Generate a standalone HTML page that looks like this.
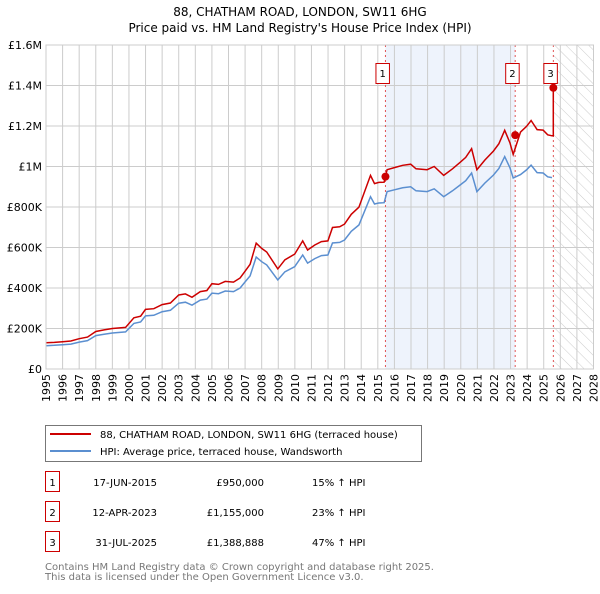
<!DOCTYPE html>
<html><head><meta charset="utf-8">
<style>
body{margin:0;background:#fff;font-family:"DejaVu Sans","Liberation Sans",sans-serif;}
svg text{font-family:"DejaVu Sans","Liberation Sans",sans-serif;}
</style></head>
<body>
<svg id="chart" width="600" height="590" viewBox="0 0 600 590" xmlns="http://www.w3.org/2000/svg">
<defs>
<pattern id="hatch" width="8" height="8" patternUnits="userSpaceOnUse" patternTransform="rotate(-45)">
<line x1="0" y1="0" x2="0" y2="8" stroke="#ccc" stroke-width="1"/>
</pattern>
</defs>
<text x="300" y="16" text-anchor="middle" font-size="12" fill="#000">88, CHATHAM ROAD, LONDON, SW11 6HG</text>
<text x="300" y="32" text-anchor="middle" font-size="12" fill="#000">Price paid vs. HM Land Registry's House Price Index (HPI)</text>
<g id="plot"></g>
<g id="legend">
<rect x="45.5" y="425.5" width="376" height="36" fill="#fff" stroke="#777"/>
<line x1="50" y1="434" x2="91" y2="434" stroke="#cc0000" stroke-width="2"/>
<text x="100" y="438" font-size="10">88, CHATHAM ROAD, LONDON, SW11 6HG (terraced house)</text>
<line x1="50" y1="451" x2="91" y2="451" stroke="#5b8fd0" stroke-width="2"/>
<text x="100" y="455" font-size="10">HPI: Average price, terraced house, Wandsworth</text>
</g>
<g id="table" font-size="10"></g>
<text x="45" y="570" font-size="10" fill="#777">Contains HM Land Registry data © Crown copyright and database right 2025.</text>
<text x="45" y="580" font-size="10" fill="#777">This data is licensed under the Open Government Licence v3.0.</text>
</svg>
<script>
const hpiYears=[1995,1995.5,1996,1996.5,1997,1997.5,1998,1998.5,1999,1999.8,2000.3,2000.7,2001,2001.5,2002,2002.5,2003,2003.4,2003.8,2004.3,2004.7,2005,2005.4,2005.8,2006.3,2006.7,2007,2007.3,2007.67,2008,2008.3,2008.97,2009.4,2009.99,2010.47,2010.77,2011.2,2011.6,2011.99,2012.27,2012.7,2012.99,2013.4,2013.86,2014.56,2014.8,2015.06,2015.38,2015.56,2016,2016.5,2016.98,2017.3,2017.97,2018.4,2018.97,2019.5,2019.97,2020.3,2020.65,2020.97,2021.45,2021.97,2022.3,2022.65,2022.97,2023.16,2023.6,2023.96,2024.24,2024.6,2024.96,2025.24,2025.5];
const hpiValues=[115,117,120,123,133,140,165,172,178,183,225,232,262,265,283,290,325,330,315,340,345,375,372,385,382,400,430,460,553,530,514,440,480,505,563,523,545,560,563,622,625,637,680,711,851,815,820,821,876,885,895,900,880,876,890,851,880,909,930,968,876,918,958,990,1049,993,943,960,983,1007,970,968,949,945];
const saleYears=[2015.46,2023.28,2025.58];
const saleLabels=["1","2","3"];
const salePrices=[950000,1155000,1388888];
const saleDates=["17-JUN-2015","12-APR-2023","31-JUL-2025"];
const salePriceText=["£950,000","£1,155,000","£1,388,888"];
const saleHpiText=["15% ↑ HPI","23% ↑ HPI","47% ↑ HPI"];
const yTicks=[0,200000,400000,600000,800000,1000000,1200000,1400000,1600000];
const yTickLabels=["£0","£200K","£400K","£600K","£800K","£1M","£1.2M","£1.4M","£1.6M"];
const xTicks=[1995,1996,1997,1998,1999,2000,2001,2002,2003,2004,2005,2006,2007,2008,2009,2010,2011,2012,2013,2014,2015,2016,2017,2018,2019,2020,2021,2022,2023,2024,2025,2026,2027,2028];

const NS="http://www.w3.org/2000/svg";
const X0=46,X1=593.5,Y0=369,Y1=45;
const xs=y=>X0+(y-1995)/(2028-1995)*(X1-X0);
const ys=v=>Y0-v/1600000*(Y0-Y1);
const plot=document.getElementById('plot');
function mk(tag,attrs,parent){const e=document.createElementNS(NS,tag);for(const k in attrs)e.setAttribute(k,attrs[k]);(parent||plot).appendChild(e);return e;}

let sh=mk('rect',{x:xs(saleYears[0]),y:Y1,width:xs(saleYears[1])-xs(saleYears[0]),height:Y0-Y1,fill:'#eef3fc'});


let ht=mk('rect',{x:xs(saleYears[2]),y:Y1,width:X1-xs(saleYears[2]),height:Y0-Y1,fill:'url(#hatch)'});



yTicks.forEach((t,i)=>{
  const g=mk('line',{x1:X0,x2:X1,y1:ys(t),y2:ys(t),stroke:'#ccc','stroke-width':1});
  
  
  const tx=mk('text',{x:X0-4,y:ys(t)+4,'text-anchor':'end','font-size':11});
  tx.textContent=yTickLabels[i];
  
  
});
xTicks.forEach(t=>{
  const g=mk('line',{x1:xs(t),x2:xs(t),y1:Y1,y2:Y0,stroke:'#ccc','stroke-width':1});
  
  
  const tx=mk('text',{x:0,y:0,'text-anchor':'end','font-size':11,transform:`translate(${xs(t)+4},${Y0+5}) rotate(-90)`});
  tx.textContent=t;
  
  
});

saleYears.forEach((s,i)=>{
  const l=mk('line',{x1:xs(s),x2:xs(s),y1:Y1,y2:Y0,stroke:'#e05555','stroke-width':1,'stroke-dasharray':'2,3'});
  
  
});

function hpiAt(y){for(let i=1;i<hpiYears.length;i++){if(y<=hpiYears[i]){const f=(y-hpiYears[i-1])/(hpiYears[i]-hpiYears[i-1]);return hpiValues[i-1]+f*(hpiValues[i]-hpiValues[i-1]);}}return hpiValues[hpiValues.length-1];}
const r1=salePrices[0]/(hpiAt(saleYears[0])*1000);
const r2=salePrices[1]/(hpiAt(saleYears[1])*1000);
let bp='',rp='';
hpiYears.forEach((y,i)=>{
  const v=hpiValues[i]*1000;
  bp+=(i?'L':'M')+xs(y).toFixed(1)+','+ys(v).toFixed(1);
  const r=y<saleYears[1]?v*r1:v*r2;
  rp+=(i?'L':'M')+xs(y).toFixed(1)+','+ys(r).toFixed(1);
});
rp+='L'+xs(saleYears[2]).toFixed(1)+','+ys(hpiAt(saleYears[2])*1000*r2).toFixed(1)+'L'+xs(saleYears[2]).toFixed(1)+','+ys(salePrices[2]).toFixed(1);
let bl=mk('path',{d:bp,fill:'none',stroke:'#5b8fd0','stroke-width':1.5});


let rl=mk('path',{d:rp,fill:'none',stroke:'#cc0000','stroke-width':1.5});



saleYears.forEach((s,i)=>{
  const c=mk('circle',{cx:xs(s),cy:ys(salePrices[i]),r:4,fill:'#cc0000'});
  
  
  const bx=mk('rect',{x:xs(s)-9.5,y:63.5,width:13.5,height:20,fill:'#fff',stroke:'#cc0000'});
  
  
  const t=mk('text',{x:xs(s)-2.8,y:77,'text-anchor':'middle','font-size':10});
  t.textContent=saleLabels[i];
  
  
});
mk('rect',{x:X0,y:Y1,width:X1-X0,height:Y0-Y1,fill:'none',stroke:'#ccc'});

const tb=document.getElementById('table');
saleLabels.forEach((lab,i)=>{
  const y=483+i*30;
  const b=mk('rect',{x:45.5,y:y-11.5,width:14,height:20,fill:'#fff',stroke:'#cc0000'},tb);
  
  
  const cells=[[52.5,lab,'middle'],[157,saleDates[i],'end'],[264,salePriceText[i],'end'],[312,saleHpiText[i],'start']];
  const names=['table-index','table-date','table-price','table-hpi-change'];
  cells.forEach((c,j)=>{
    const t=mk('text',{x:c[0],y:y+3,'text-anchor':c[2],'font-size':10},tb);
    t.textContent=c[1];
    
    
  });
});
</script>
</body></html>
